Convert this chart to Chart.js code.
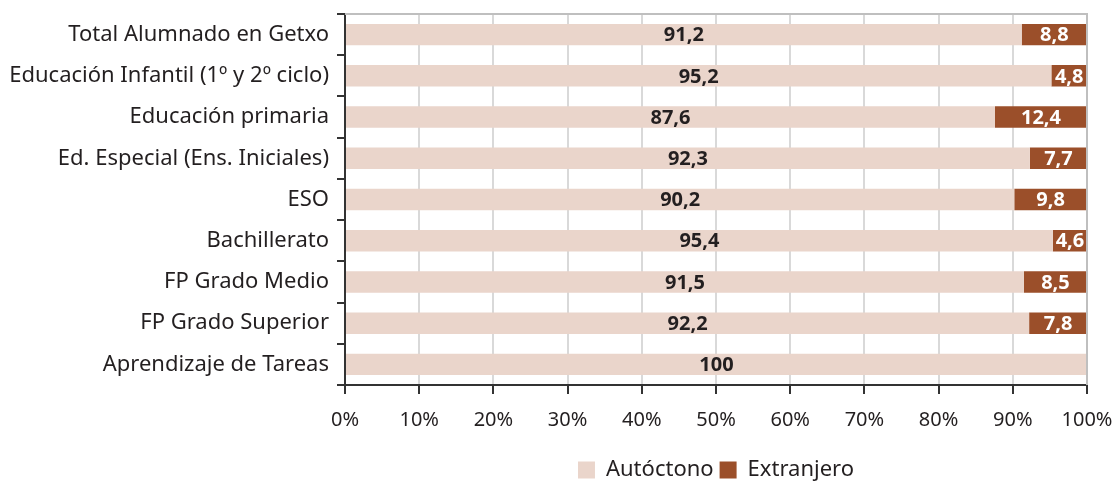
<!DOCTYPE html>
<html><head><meta charset="utf-8">
<script src="https://cdn.jsdelivr.net/npm/chart.js@4.4.1/dist/chart.umd.min.js"></script>
<style>html,body{margin:0;padding:0;background:#fff;}#wrap{width:1117px;height:485px;}</style>
</head><body><div id="wrap"><canvas id="c" width="1117" height="485"></canvas></div>
<script>
const categories = ["Total Alumnado en Getxo","Educación Infantil (1º y 2º ciclo)","Educación primaria","Ed. Especial (Ens. Iniciales)","ESO","Bachillerato","FP Grado Medio","FP Grado Superior","Aprendizaje de Tareas"];
const autoctono = [91.2,95.2,87.6,92.3,90.2,95.4,91.5,92.2,100];
const extranjero = [8.8,4.8,12.4,7.7,9.8,4.6,8.5,7.8,0];
const seriesNames = ["Autóctono","Extranjero"];
const xTicks = [0,10,20,30,40,50,60,70,80,90,100];

const FONT = "'Noto Sans', sans-serif";
const labelColors = ['#231f20','#ffffff'];

const labelPlugin = {
  id:'barLabels',
  afterDatasetsDraw(chart){
    const ctx = chart.ctx;
    ctx.save();
    ctx.font = "bold 20px " + FONT;
    ctx.textAlign='center'; ctx.textBaseline='middle';
    chart.data.datasets.forEach((ds,di)=>{
      const meta = chart.getDatasetMeta(di);
      meta.data.forEach((el,i)=>{
        const v = ds.data[i];
        if(!v) return;
        const cx = (el.x + el.base)/2;
        ctx.fillStyle = labelColors[di];
        ctx.fillText(String(v).replace('.',','), cx, el.y+1);
      });
    });
    ctx.restore();
  }
};
const borderPlugin = {
  id:'topRight',
  afterDraw(chart){
    const a = chart.chartArea, ctx = chart.ctx;
    ctx.save();
    ctx.strokeStyle='#bfbfbf'; ctx.lineWidth=2;
    ctx.beginPath();
    ctx.moveTo(a.left, a.top); ctx.lineTo(a.right, a.top); ctx.lineTo(a.right, a.bottom);
    ctx.stroke();
    ctx.restore();
  }
};

new Chart(document.getElementById('c'), {
  type:'bar',
  data:{
    labels: categories,
    datasets:[
      {label:seriesNames[0], data:autoctono, backgroundColor:'#ead5cb', categoryPercentage:1, barPercentage:0.52},
      {label:seriesNames[1], data:extranjero, backgroundColor:'#9b4f2a', categoryPercentage:1, barPercentage:0.52}
    ]
  },
  options:{
    indexAxis:'y',
    responsive:false,
    animation:false,
    layout:{padding:{top:14,right:30,left:0,bottom:-6}},
    scales:{
      x:{
        stacked:true, min:0, max:100,
        afterBuildTicks(s){ s.ticks = xTicks.map(v=>({value:v})); },
        afterFit(s){ s.height = 68; s.paddingLeft = 0; s.paddingRight = 0; },
        ticks:{ callback:v=>v+'%', color:'#231f20', font:{family:FONT, size:20}, padding:14, maxRotation:0 },
        grid:{ color:'#d9d9d9', lineWidth:2, tickColor:'#333', tickLength:9 },
        border:{ color:'#333', width:2 }
      },
      y:{
        stacked:true,
        afterFit(s){ s.width = 345; s.paddingTop = 0; s.paddingBottom = 0; },
        ticks:{ color:'#231f20', font:{family:FONT, size:22}, padding:8 },
        grid:{ offset:true, drawOnChartArea:false, tickColor:'#333', tickLength:8, lineWidth:2 },
        border:{ color:'#333', width:2 }
      }
    },
    plugins:{
      legend:{
        position:'bottom', fullSize:false,
        labels:{ boxWidth:17, boxHeight:17, color:'#231f20', font:{family:FONT, size:22}, padding:6 }
      },
      tooltip:{enabled:false}
    }
  },
  plugins:[labelPlugin, borderPlugin]
});
</script></body></html>
